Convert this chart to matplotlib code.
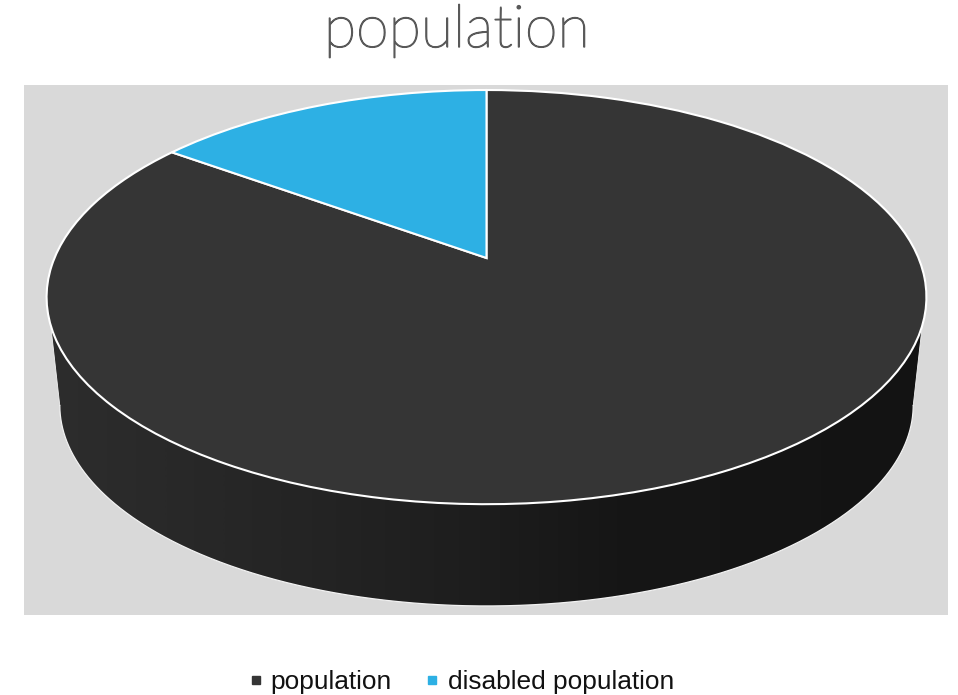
import matplotlib
matplotlib.use('Agg')
import matplotlib.pyplot as plt
import matplotlib.patheffects as pe
import matplotlib.transforms as mtransforms
from matplotlib.colors import LinearSegmentedColormap
from matplotlib.lines import Line2D
from matplotlib.patches import Polygon, Rectangle
import numpy as np

# Values
labels = ['population', 'disabled population']
values = [85, 15]
colors = ['#353535', '#2db0e4']
title = 'population'

# Perspective of the disc, in pixels of the 958x695 picture
CX, APEX_Y = 486.5, 258
A, B, C = 432, 199.7, 0.1888
# Base rim = top rim shrunk a bit and moved down
RIM_MID_Y, BASE_SCALE, BASE_DROP = 297, 0.97, 108


def project(xy):
    xy = np.asarray(xy, dtype=float)
    w = 1 + C * xy[..., 1]
    return np.stack([CX + A * xy[..., 0] / w, APEX_Y - B * xy[..., 1] / w], axis=-1)


def to_base(px):
    px = np.asarray(px, dtype=float)
    return np.stack([CX + BASE_SCALE * (px[..., 0] - CX),
                     RIM_MID_Y + BASE_DROP + BASE_SCALE * (px[..., 1] - RIM_MID_Y)], axis=-1)


class DiscTransform(mtransforms.Transform):
    input_dims = output_dims = 2
    is_separable = False

    def transform_non_affine(self, values):
        return project(values)


fig = plt.figure(figsize=(9.58, 6.95), dpi=100)
ax = fig.add_axes([0, 0, 1, 1])

wedges, _ = ax.pie(values, colors=colors, startangle=90, counterclock=False,
                   wedgeprops={'edgecolor': 'white', 'linewidth': 1.5, 'zorder': 5})
ax.set_aspect('auto')

disc = DiscTransform() + ax.transData
for w in wedges:
    w.set_transform(disc)

# Plot area
ax.add_patch(Rectangle((24, 85), 924, 530, facecolor='#d9d9d9', edgecolor='none', zorder=0))

# Side wall: outline goes from the rim's lower part to the widest part of the base
t = np.linspace(0, 2 * np.pi, 1441)
top_rim = project(np.stack([np.cos(t), np.sin(t)], axis=-1))
base_rim = to_base(top_rim)
near_top = top_rim[top_rim[:, 1] >= 325]
near_base = base_rim[base_rim[:, 1] >= RIM_MID_Y + BASE_DROP]
near_top = near_top[np.argsort(near_top[:, 0])]
near_base = near_base[np.argsort(near_base[:, 0])]
wall_xy = np.vstack([near_top, near_base[::-1]])

shade = LinearSegmentedColormap.from_list('wall', [
    (0.0, '#2d2d2d'), (0.3, '#242424'), (0.47, '#1e1e1e'), (0.65, '#161616'), (1.0, '#131313')])
wall = Polygon(wall_xy, closed=True, facecolor='none', edgecolor='none', transform=ax.transData)
ax.add_patch(wall)
img = ax.imshow(np.linspace(0, 1, 440)[None, :], cmap=shade, extent=(46, 926, 615, 85),
                aspect='auto', zorder=2, interpolation='bilinear')
img.set_clip_path(wall)

# Thin light outline of the base and wall sides
ax.plot(near_base[:, 0], near_base[:, 1], color='#f2f2f2', linewidth=0.9, zorder=3)
for i in (0, -1):
    ax.plot([near_top[i, 0], near_base[i, 0]], [near_top[i, 1], near_base[i, 1]],
            color='#f2f2f2', linewidth=0.6, zorder=3)

ax.set_xlim(0, 958)
ax.set_ylim(695, 0)
ax.axis('off')

ax.text(457, 47, title, fontsize=42.6, color='#595959', family='Lato', weight='light',
        ha='center', va='baseline',
        path_effects=[pe.withStroke(linewidth=1.0, foreground='#595959')])

handles = [Line2D([], [], linestyle='none', marker='s', markersize=5.8, color=c) for c in colors]
ax.legend(handles, labels, loc='center', bbox_to_anchor=(459.5 / 958, 1 - 682 / 695), ncol=2,
          frameon=False, handletextpad=0.18, columnspacing=1.14,
          prop={'family': 'Liberation Sans', 'size': 18.9}, labelcolor='#111111',
          handlelength=0.8, borderpad=0, borderaxespad=0)

fig.savefig('out.png', dpi=100)
